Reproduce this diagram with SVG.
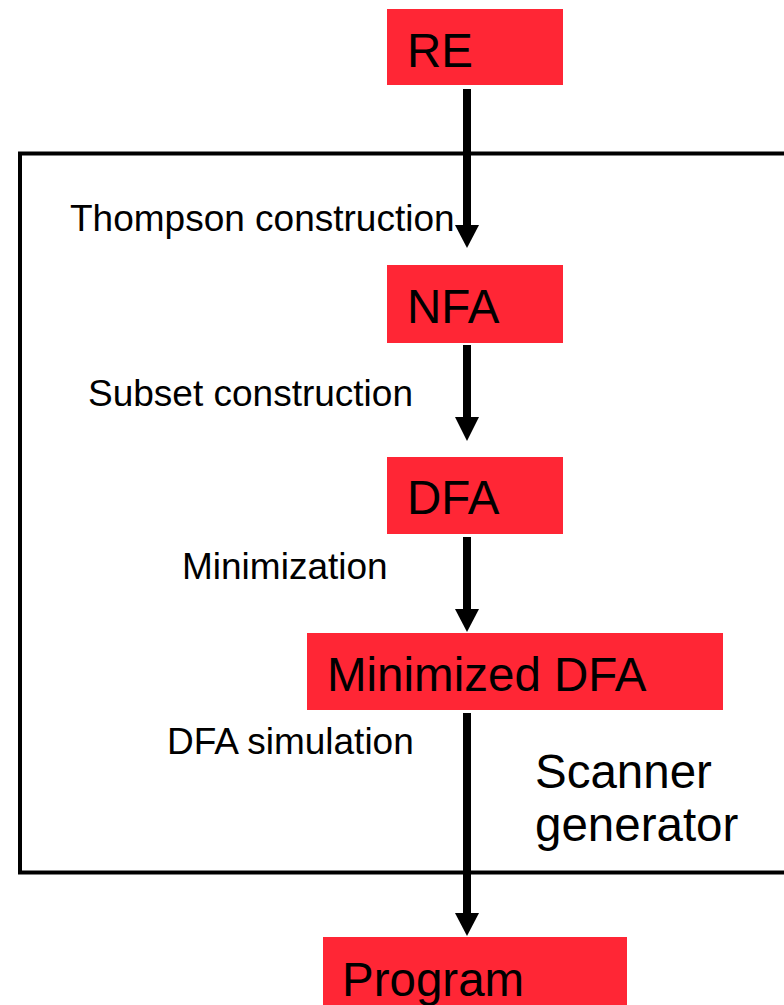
<svg xmlns="http://www.w3.org/2000/svg" width="784" height="1005" viewBox="0 0 784 1005">
<style>
.box{fill:#ff2635;}
.nt{font-family:"Liberation Sans",Arial,sans-serif;font-size:47.5px;fill:#000;}
.lb{font-family:"Liberation Sans",Arial,sans-serif;font-size:37px;fill:#000;}
.ln{stroke:#000;stroke-width:8;fill:none;}
.hd{fill:#000;}
</style>
<rect width="784" height="1005" fill="#fff"/>
<g id="scanner-generator">
<rect x="20" y="153.5" width="780" height="719" fill="none" stroke="#000" stroke-width="4"/>
<text class="nt" x="535" y="788">Scanner</text>
<text class="nt" x="535" y="841">generator</text>
</g>
<g id="connectors">
<line class="ln" x1="467" y1="89" x2="467" y2="228"/>
<polygon class="hd" points="455,225 479,225 467,248"/>
<line class="ln" x1="467" y1="345" x2="467" y2="420"/>
<polygon class="hd" points="455,417 479,417 467,441"/>
<line class="ln" x1="467" y1="537" x2="467" y2="612"/>
<polygon class="hd" points="455,609 479,609 467,632"/>
<line class="ln" x1="467" y1="713" x2="467" y2="916"/>
<polygon class="hd" points="455,913 479,913 467,936"/>
<text class="lb" x="70" y="231">Thompson construction</text>
<text class="lb" x="88" y="406">Subset construction</text>
<text class="lb" x="182" y="579">Minimization</text>
<text class="lb" x="167" y="754">DFA simulation</text>
</g>
<g id="node-re">
<rect class="box" x="387" y="9" width="176" height="76"/>
<text class="nt" x="407" y="67">RE</text>
</g>
<g id="node-nfa">
<rect class="box" x="387" y="265" width="176" height="78"/>
<text class="nt" x="407" y="323">NFA</text>
</g>
<g id="node-dfa">
<rect class="box" x="387" y="457" width="176" height="77"/>
<text class="nt" x="407" y="514">DFA</text>
</g>
<g id="node-min-dfa">
<rect class="box" x="307" y="633" width="416" height="77"/>
<text class="nt" x="327" y="691">Minimized DFA</text>
</g>
<g id="node-program">
<rect class="box" x="323" y="937" width="304" height="80"/>
<text class="nt" x="342" y="996">Program</text>
</g>
</svg>
